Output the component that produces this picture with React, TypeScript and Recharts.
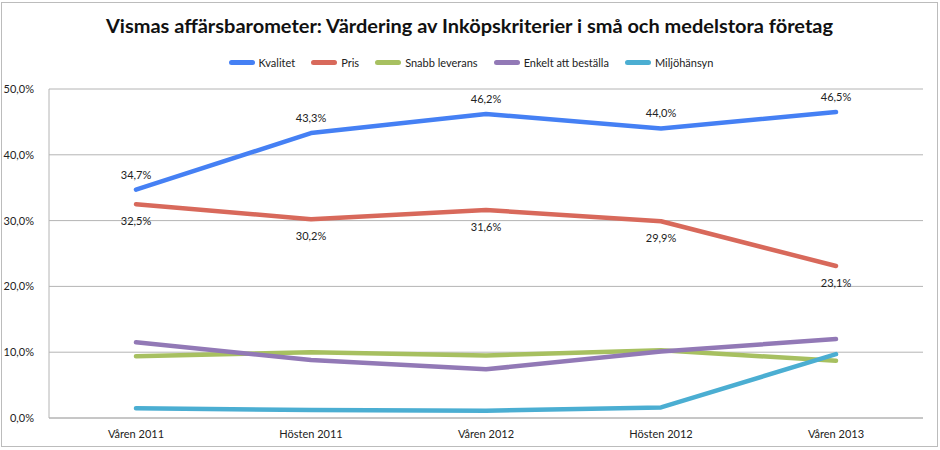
import React from 'react';
import { LineChart, Line, XAxis, YAxis, CartesianGrid, LabelList } from 'recharts';

const categories = ['Våren 2011', 'Hösten 2011', 'Våren 2012', 'Hösten 2012', 'Våren 2013'];
const kvalitet = [34.7, 43.3, 46.2, 44.0, 46.5];
const pris = [32.5, 30.2, 31.6, 29.9, 23.1];
const snabbLeverans = [9.4, 10.0, 9.5, 10.3, 8.7];
const enkeltAttBestalla = [11.5, 8.8, 7.4, 10.1, 12.0];
const miljohansyn = [1.5, 1.2, 1.1, 1.6, 9.7];
const yTicks = [0, 10, 20, 30, 40, 50];

const TITLE = 'Vismas affärsbarometer: Värdering av Inköpskriterier i små och medelstora företag';

const seriesDefs = [
  { key: 'kvalitet', name: 'Kvalitet', values: kvalitet, color: '#4580F4' },
  { key: 'pris', name: 'Pris', values: pris, color: '#D8695B' },
  { key: 'snabb', name: 'Snabb leverans', values: snabbLeverans, color: '#A7C060' },
  { key: 'enkelt', name: 'Enkelt att beställa', values: enkeltAttBestalla, color: '#9279B6' },
  { key: 'miljo', name: 'Miljöhänsyn', values: miljohansyn, color: '#4BAED2' },
];

const data = categories.map((c, i) => {
  const row: Record<string, any> = { name: c };
  seriesDefs.forEach((s) => {
    row[s.key] = s.values[i];
  });
  return row;
});

const fmt = (v: number) => v.toFixed(1).replace('.', ',') + '%';
const FONT = 'Lato, "Open Sans", sans-serif';

export default function App() {
  return (
    <div
      style={{
        position: 'absolute',
        left: 0,
        top: 0,
        width: 940,
        height: 450,
        background: '#fff',
        fontFamily: FONT,
      }}
    >
      <div
        style={{
          position: 'absolute',
          left: 1,
          top: 2,
          width: 935,
          height: 443,
          border: '1.5px solid #bcbcbc',
          boxSizing: 'content-box',
        }}
      />
      <svg width={940} height={50} style={{ position: 'absolute', left: 0, top: 0 }}>
        <text
          x={469.5}
          y={33}
          textAnchor="middle"
          textLength={727}
          lengthAdjust="spacingAndGlyphs"
          style={{ fontFamily: FONT, fontWeight: 700, fontSize: 18, fill: '#111' }}
        >
          {TITLE}
        </text>
      </svg>
      <div
        style={{
          position: 'absolute',
          left: 0,
          top: 54,
          width: 940,
          height: 16,
          display: 'flex',
          justifyContent: 'center',
          alignItems: 'center',
          fontSize: 11,
          color: '#222',
          paddingLeft: 2,
          boxSizing: 'border-box',
        }}
      >
        {seriesDefs.map((s, i) => (
          <div
            key={s.key}
            style={{
              display: 'flex',
              alignItems: 'center',
              marginRight: i < seriesDefs.length - 1 ? 16 : 0,
            }}
          >
            <span
              style={{
                display: 'inline-block',
                width: 26,
                height: 5,
                borderRadius: 3,
                background: s.color,
                marginRight: 4,
              }}
            />
            <span>{s.name}</span>
          </div>
        ))}
      </div>
      <div style={{ position: 'absolute', left: 0, top: 0 }}>
        <LineChart
          width={940}
          height={450}
          data={data}
          margin={{ top: 89, right: 17, bottom: 0, left: 0 }}
        >
          <CartesianGrid vertical={false} stroke="#b4b4b4" strokeWidth={1} />
          <XAxis
            dataKey="name"
            height={32}
            padding={{ left: 87, right: 87 }}
            tickLine={false}
            axisLine={{ stroke: '#b4b4b4' }}
            tick={{ fontSize: 11, fill: '#222', fontFamily: FONT }}
            tickMargin={6}
            interval={0}
          />
          <YAxis
            width={49}
            domain={[0, 50]}
            ticks={yTicks}
            tickFormatter={fmt}
            tickLine={false}
            axisLine={{ stroke: '#b4b4b4' }}
            tick={{ fontSize: 11, fill: '#222', fontFamily: FONT }}
            tickMargin={9}
          />
          {seriesDefs.map((s) => (
            <Line
              key={s.key}
              type="linear"
              dataKey={s.key}
              name={s.name}
              stroke={s.color}
              strokeWidth={4.5}
              strokeLinecap="round"
              strokeLinejoin="round"
              dot={false}
              activeDot={false}
              isAnimationActive={false}
            >
              {s.key === 'kvalitet' && (
                <LabelList
                  dataKey={s.key}
                  position="top"
                  offset={11}
                  formatter={(v: any) => fmt(Number(v))}
                  style={{ fontSize: 11, fill: '#222', fontFamily: FONT }}
                />
              )}
              {s.key === 'pris' && (
                <LabelList
                  dataKey={s.key}
                  position="bottom"
                  offset={13}
                  formatter={(v: any) => fmt(Number(v))}
                  style={{ fontSize: 11, fill: '#222', fontFamily: FONT }}
                />
              )}
            </Line>
          ))}
        </LineChart>
      </div>
    </div>
  );
}
